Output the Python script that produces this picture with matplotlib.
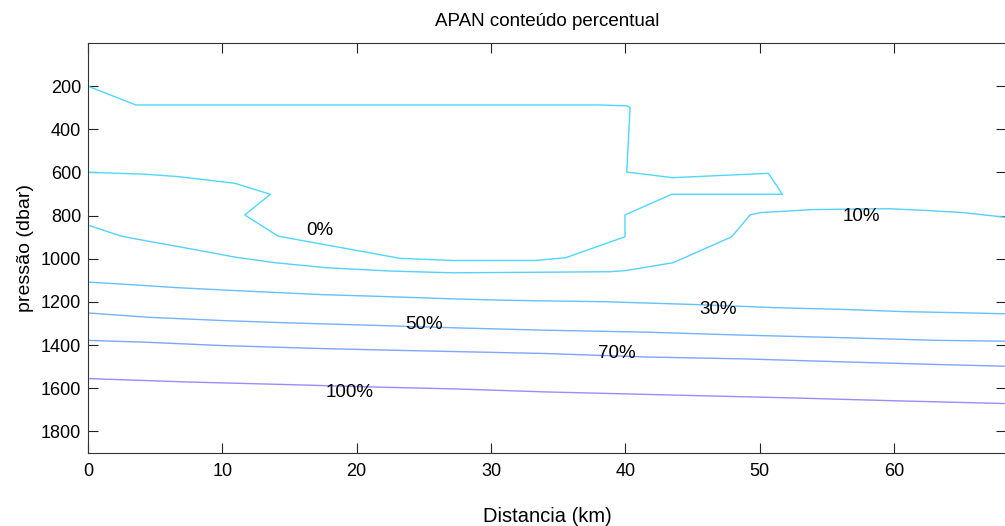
import matplotlib
matplotlib.use("Agg")
import matplotlib.pyplot as plt
import numpy as np

plt.rcParams["font.family"] = ["Liberation Sans", "DejaVu Sans"]

# contour levels (%) and their polylines (km, dbar)
levels = [0, 10, 30, 50, 70, 100]

x_0 = [0, 3.55, 37.97, 40.11, 40.36, 40.11, 43.54, 50.66, 51.70, 43.46, 39.98,
       39.98, 35.57, 33.28, 27.2, 23.23, 14.15, 11.67, 13.58, 10.92, 6.70, 4.22, 0]
y_0 = [200, 287, 287, 291, 299, 598, 624, 604, 701, 701, 797,
       898, 995, 1008, 1008, 998, 895, 797, 701, 650, 619, 608, 599]

x_10 = [0, 2.48, 3.47, 8.19, 10.92, 13.9, 17.87, 22.58, 27.2, 38.87, 40.11,
        43.58, 47.93, 49.29, 50.04, 54.0, 59.7, 62.7, 65.18, 68.35]
y_10 = [844, 895, 907, 960, 992, 1018, 1042, 1057, 1065, 1060, 1054,
        1018, 898, 797, 786, 772, 768, 777, 786, 808]

x_30 = [0, 2.98, 6.70, 10.18, 17.37, 21.1, 27.3, 31.0, 34.1, 38.5, 45.2,
        51.4, 56.4, 60.8, 65.05, 68.35]
y_30 = [1108, 1119, 1134, 1145, 1166, 1173, 1186, 1192, 1195, 1199, 1212,
        1227, 1235, 1245, 1250, 1255]

x_50 = [0, 4.47, 9.93, 14.9, 21.1, 27.3, 34.1, 41.5, 48.9, 56.4, 63.3, 68.35]
y_50 = [1251, 1271, 1286, 1297, 1308, 1320, 1331, 1340, 1354, 1366, 1378, 1382]

x_70 = [0, 4.47, 9.93, 17.37, 23.58, 34.1, 41.5, 48.9, 56.4, 63.3, 68.35]
y_70 = [1378, 1387, 1402, 1416, 1425, 1439, 1455, 1464, 1478, 1490, 1498]

x_100 = [0, 7.45, 14.9, 21.1, 27.3, 34.1, 45.2, 52.6, 60.1, 68.35]
y_100 = [1555, 1571, 1583, 1594, 1603, 1617, 1634, 1645, 1658, 1671]

# label positions
label_x = [17.27, 57.56, 46.9, 25.0, 39.4, 19.5]
label_y = [868, 803, 1235, 1305, 1437, 1620]

xs = [x_0, x_10, x_30, x_50, x_70, x_100]
ys = [y_0, y_10, y_30, y_50, y_70, y_100]

fig = plt.figure(figsize=(10.05, 5.26), dpi=100)
ax = fig.add_axes([88 / 1005, (526 - 453) / 526, (1006 - 88) / 1005, (453 - 43) / 526])

cmap = plt.get_cmap("cool")
for level, x, y in zip(levels, xs, ys):
    # lines look a bit washed out in the original, mix some white in
    color = np.array(cmap(0.18 + level / 100 * 0.35)[:3]) * 0.85 + 0.15
    ax.plot(x, y, color=color, linewidth=1.0)

for level, lx, ly in zip(levels, label_x, label_y):
    ax.text(lx, ly, f"{level}%", ha="center", va="center", fontsize=13.5)

ax.set_xlim(0, 68.35)
ax.set_ylim(1900, 0)
ax.set_xticks(range(0, 70, 10))
ax.set_yticks(range(200, 1900, 200))

ax.tick_params(direction="in", length=7, width=0.8, top=True, right=True,
               labelsize=13, color="#222222")
ax.tick_params(axis="x", pad=7)
ax.tick_params(axis="y", pad=5)
for spine in ax.spines.values():
    spine.set_color("#333333")
    spine.set_linewidth(0.8)

ax.set_title("APAN conteúdo percentual", fontsize=13.5, pad=12)
ax.set_xlabel("Distancia (km)", fontsize=14.5, labelpad=20)
ax.set_ylabel("pressão (dbar)", fontsize=14, labelpad=5)

fig.savefig("out.png", dpi=100)
